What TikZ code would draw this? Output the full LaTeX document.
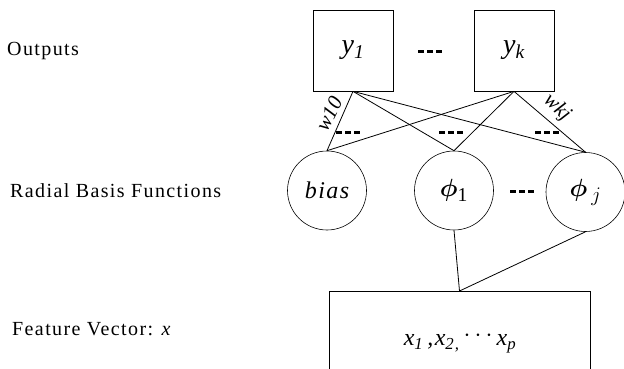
\documentclass[tikz,border=0pt]{standalone}
\usepackage{amsmath}
\usepackage{bm}
\usepackage{fontspec}
\setmainfont{Liberation Serif}
\newfontfamily\lblfont[LetterSpace=7]{Liberation Serif}
\newfontfamily\nodefont[LetterSpace=6]{Liberation Serif}
\newcommand\tdash{\rule{6pt}{3pt}\hspace{3pt}\rule{6pt}{3pt}\hspace{3pt}\rule{6pt}{3pt}}
\begin{document}
\begin{tikzpicture}[x=1pt,y=-1pt,
  box/.style={draw,line width=0.7pt,minimum width=80pt,minimum height=81pt,inner sep=0pt},
  unit/.style={draw,circle,line width=0.6pt,minimum size=79pt,inner sep=0pt},
  link/.style={line width=0.8pt},
  side/.style={anchor=west,inner sep=0pt,font=\lblfont\fontsize{20}{24}\selectfont},
  big/.style={inner sep=0pt,font=\nodefont\fontsize{24}{28}\selectfont},
  bigger/.style={inner sep=0pt,font=\nodefont\fontsize{28}{32}\selectfont},
  wlab/.style={inner sep=0pt,font=\itshape\fontsize{21}{23}\selectfont},
  tdots/.style={inner sep=0pt}]
\clip (0,0) rectangle (624,369);
\fill[white] (0,0) rectangle (624,369);
% output boxes
\node[box] (y1) at (353,50.5) {};
\node[bigger] at (y1.center) {\itshape y\textsubscript{\itshape 1}};
\node[box] (yk) at (514,50.5) {};
\node[bigger] at (yk.center) {\itshape y\textsubscript{\itshape k}};
\node[tdots] (d0) at (430,51) {\tdash};
% RBF units
\node[unit] (bias) at (327,190.5) {};
\node[big] at (bias.center) {\itshape bias};
\node[unit] (phi1) at (454,190.5) {};
\node[bigger] at (phi1.center) {$\bm{\phi}_{\mathrm{1}}$};
\node[unit] (phij) at (585.5,192) {};
\node[bigger] at (phij.center) {$\bm{\phi}\,_j$};
\node[tdots] (d4) at (522,191) {\tdash};
% feature box
\node[draw,line width=0.7pt,minimum width=261pt,minimum height=120pt,anchor=north,inner sep=0pt] (feat) at (459.5,291) {};
\node[big] at (460,342) {\itshape x\textsubscript{\itshape 1}\,,x\textsubscript{\itshape 2,}\,\raisebox{0.35ex}{\upshape$\cdots$}x\textsubscript{\itshape p}};
% connectors
\draw[link] (y1.south) -- (bias.north);
\draw[link] (y1.south) -- (phi1.north);
\draw[link] (y1.south) -- (phij.north);
\draw[link] (yk.south) -- (bias.north);
\draw[link] (yk.south) -- (phi1.north);
\draw[link] (yk.south) -- (phij.north);
\draw[link] (phi1.south) -- (feat.north);
\draw[link] (phij.south) -- (feat.north);
% weight dots and labels
\node[tdots] (d1) at (348,132) {\tdash};
\node[tdots] (d2) at (451,132) {\tdash};
\node[tdots] (d3) at (547,132) {\tdash};
\node[wlab,rotate=63] (w10) at (329,114) {w10};
\node[wlab,rotate=-42] (wkj) at (557,108) {wkj};
% side labels
\node[side] (lo) at (7,51) {Outputs};
\node[side] (lr) at (10,191) {Radial Basis Functions};
\node[side] (lf) at (12,329) {Feature Vector: \textit{x}};
\end{tikzpicture}
\end{document}
